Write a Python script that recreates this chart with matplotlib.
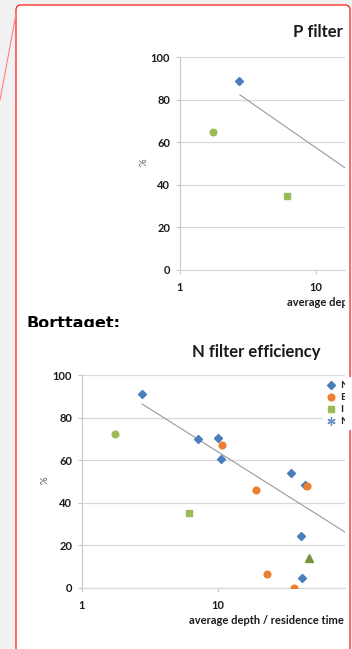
import numpy as np
import matplotlib
matplotlib.use('Agg')
import matplotlib.pyplot as plt
from matplotlib.patches import FancyBboxPatch
from matplotlib.lines import Line2D
from matplotlib.transforms import Bbox, TransformedBbox
from matplotlib.ticker import NullLocator

W, H = 352, 649

# P filter efficiency
p_diamond_x = [2.72]
p_diamond_y = [88.7]
p_circle_x = [1.75]
p_circle_y = [64.8]
p_square_x = [6.12]
p_square_y = [34.7]
p_trend = (101.7, -44.3)      # y = a + b * log10(x)
p_trend_x = [2.76, 100]

# N filter efficiency
n_diamond_x = [2.76, 7.13, 10.0, 10.5, 34.4, 43.6, 40.8, 41.5]
n_diamond_y = [91.0, 70.0, 70.4, 60.6, 54.0, 48.4, 24.4, 4.7]
n_orange_x = [10.7, 19.0, 45.1, 22.9, 36.2]
n_orange_y = [67.1, 46.0, 47.9, 6.6, 0.0]
n_square_x = [6.12]
n_square_y = [35.2]
n_circle_x = [1.75]
n_circle_y = [72.3]
n_triangle_x = [46.7]
n_triangle_y = [14.1]
n_trend = (104.2, -40.3)
n_trend_x = [2.76, 100]

legend_labels = ['N', 'E', 'I', 'N']
y_ticks = [0, 20, 40, 60, 80, 100]
x_ticks = [1, 10, 100]
x_tick_labels = ['1', '10', '100']

BLUE = '#4a7ebb'
ORANGE = '#ed7d31'
GREEN = '#9bbb59'
DKGREEN = '#77933c'
TREND = '#999999'

plt.rcParams['font.family'] = ['Lato', 'DejaVu Sans']
plt.rcParams['font.weight'] = 'bold'

fig = plt.figure(figsize=(W / 100, H / 100), dpi=100)
fig.patch.set_facecolor('#f1f1f1')

# page / comment balloon drawn in pixel coordinates
bg = fig.add_axes([0, 0, 1, 1])
bg.set_xlim(0, W)
bg.set_ylim(H, 0)
bg.axis('off')
bg.add_patch(FancyBboxPatch((16, 5), 334, 670, boxstyle='round,pad=0,rounding_size=5',
                            facecolor='white', edgecolor='#ff1a1a', lw=0.9))
bg.plot([0, 16], [100, 14], color='#ff8080', lw=0.8)

CLIP_X = 345
clip_bb = TransformedBbox(Bbox.from_extents(0, 0, CLIP_X / W, 1), fig.transFigure)
DECADE = 136  # px per decade on both charts


def px_axes(x0, y0, x1, y1):
    ax = fig.add_axes([x0 / W, 1 - y1 / H, (x1 - x0) / W, (y1 - y0) / H])
    ax.patch.set_alpha(0)
    ax.set_xscale('log')
    ax.set_yticks(y_ticks)
    ax.set_xticks(x_ticks, x_tick_labels)
    ax.xaxis.set_minor_locator(NullLocator())
    # limits after the ticks, otherwise set_xticks widens the view
    ax.set_xlim(1, 10 ** ((x1 - x0) / DECADE))
    ax.set_ylim(0, 100)
    ax.yaxis.grid(True, color='#d9d9d9', lw=0.9)
    ax.set_axisbelow(True)
    for s in ['top', 'right']:
        ax.spines[s].set_visible(False)
    ax.spines['left'].set_color('#c8c8c8')
    ax.spines['bottom'].set_color('#d9d9d9')
    ax.spines['left'].set_linewidth(0.8)
    ax.spines['bottom'].set_linewidth(0.9)
    ax.tick_params(length=3, width=0.8, color='#c8c8c8', labelsize=8, labelcolor='#1a1a1a')
    ax.tick_params(axis='y', pad=4)
    ax.tick_params(axis='x', pad=5.5)
    return ax


def trend(ax, coef, xs):
    xs = np.array(xs)
    ax.plot(xs, coef[0] + coef[1] * np.log10(xs), color=TREND, lw=0.8, zorder=2)


def label(x, y, s, size, **kw):
    t = bg.text(x, y, s, fontsize=size, va='baseline', ha='left', color='#1a1a1a', **kw)
    t.set_clip_box(clip_bb)
    t.set_clip_on(True)
    return t


# ---- P filter efficiency ----
ax1 = px_axes(180, 57, CLIP_X, 270)
trend(ax1, p_trend, p_trend_x)
ax1.plot(p_diamond_x, p_diamond_y, 'D', ms=3.6, color=BLUE, zorder=3)
ax1.plot(p_circle_x, p_circle_y, 'o', ms=4.8, color=GREEN, zorder=3)
ax1.plot(p_square_x, p_square_y, 's', ms=4.6, color=GREEN, zorder=3)
label(293, 37, 'P filter efficiency', 12)
label(287, 306, 'average depth / residence time', 8)
bg.text(144, 162, '%', fontsize=7, rotation=90, ha='center', va='center',
        color='#595959', fontweight='normal')

# ---- deleted marker text ----
t = bg.text(26, 328, 'Borttaget:', fontsize=11.5, family='DejaVu Sans',
            fontweight='bold', color='black', va='baseline')
t.set_clip_box(TransformedBbox(Bbox.from_extents(0, 1 - 327 / H, 1, 1), fig.transFigure))
t.set_clip_on(True)

# ---- N filter efficiency ----
ax2 = px_axes(82, 375, CLIP_X, 588)
trend(ax2, n_trend, n_trend_x)
ax2.plot(n_diamond_x, n_diamond_y, 'D', ms=3.6, color=BLUE, zorder=3)
ax2.plot(n_orange_x, n_orange_y, 'o', ms=4.8, color=ORANGE, zorder=3)
ax2.plot(n_square_x, n_square_y, 's', ms=4.6, color=GREEN, zorder=3)
ax2.plot(n_circle_x, n_circle_y, 'o', ms=4.8, color=GREEN, zorder=3)
ax2.plot(n_triangle_x, n_triangle_y, '^', ms=5.2, color=DKGREEN, zorder=3)
label(192, 357, 'N filter efficiency', 12)
label(189, 624, 'average depth / residence time', 8)
bg.text(45, 480, '%', fontsize=7, rotation=90, ha='center', va='center',
        color='#595959', fontweight='normal')

handles = [
    Line2D([], [], ls='none', marker='D', ms=3.6, color=BLUE),
    Line2D([], [], ls='none', marker='o', ms=4.8, color=ORANGE),
    Line2D([], [], ls='none', marker='s', ms=4.6, color=GREEN),
    Line2D([], [], ls='none', marker=(6, 2, 0), ms=6, color='#6f93c8', mew=1),
]
leg = ax2.legend(handles, legend_labels, loc='upper left',
                 bbox_to_anchor=(323 / W, 1 - 377 / H), bbox_transform=fig.transFigure,
                 borderaxespad=0, borderpad=0.4, handlelength=0.8, handletextpad=0.4,
                 labelspacing=0.25, fontsize=7.5, frameon=True, fancybox=False,
                 facecolor='white', edgecolor='none', framealpha=1)
for txt in leg.get_texts():
    txt.set_clip_box(clip_bb)
    txt.set_clip_on(True)
    txt.set_color('#262626')

fig.savefig('out.png', dpi=100, facecolor=fig.get_facecolor())
